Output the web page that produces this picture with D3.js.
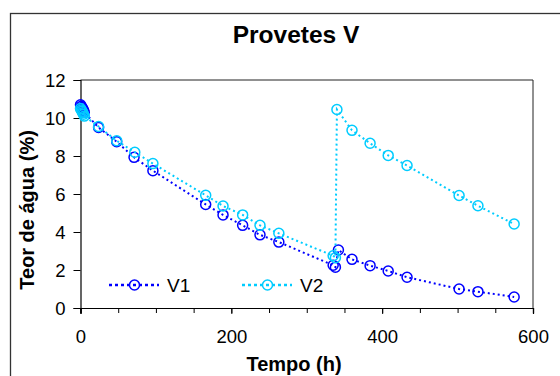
<!DOCTYPE html>
<html><head><meta charset="utf-8">
<script src="https://cdn.jsdelivr.net/npm/d3@7"></script>
<style>body{margin:0;background:#fff;} svg{display:block;font-family:"Liberation Sans",Arial,sans-serif;}</style>
</head><body>
<script>
const title = "Provetes V";
const xLabel = "Tempo (h)";
const yLabel = "Teor de água (%)";
const xTicks = [0, 200, 400, 600];
const xMinorTicks = [0,50,100,150,200,250,300,350,400,450,500,550,600];
const yTicks = [0, 2, 4, 6, 8, 10, 12];

const v1Time  = [0, 1, 2, 3, 4, 5, 24, 48, 71, 96, 166, 189, 215, 238, 263, 335, 338, 342, 360, 384, 408, 433, 502, 527, 575];
const v1Value = [10.7, 10.62, 10.55, 10.48, 10.4, 10.3, 9.5, 8.75, 7.93, 7.23, 5.45, 4.9, 4.35, 3.85, 3.47, 2.25, 2.15, 3.05, 2.56, 2.23, 1.95, 1.62, 1.0, 0.86, 0.58];
const v2Time  = [0, 1, 2, 3, 4, 5, 24, 48, 72, 96, 166, 189, 215, 238, 263, 335, 338, 340, 360, 384, 408, 433, 502, 527, 575];
const v2Value = [10.5, 10.42, 10.35, 10.28, 10.2, 10.1, 9.55, 8.8, 8.2, 7.6, 5.93, 5.37, 4.9, 4.35, 3.93, 2.75, 2.65, 10.45, 9.35, 8.67, 8.03, 7.5, 5.92, 5.38, 4.42];

const seriesNames = ["V1", "V2"];
const seriesColors = ["#0000ff", "#00ccff"];

const W = 560, H = 376;
const svg = d3.select("body").append("svg").attr("width", W).attr("height", H);

// outer chart border
svg.append("rect").attr("x", 10.5).attr("y", 13.5).attr("width", 600).attr("height", 400)
  .attr("fill", "none").attr("stroke", "#333").attr("stroke-width", 1.3);

const x = d3.scaleLinear().domain([0, 600]).range([80.5, 533]);
const y = d3.scaleLinear().domain([0, 12]).range([308, 80]);

// plot frame (top and right)
svg.append("path").attr("d", `M${x(0)},${y(12)}H${x(600)}V${y(0)}`)
  .attr("fill", "none").attr("stroke", "#222").attr("stroke-width", 1);

// axes
const xAxisMinor = d3.axisBottom(x).tickValues(xMinorTicks).tickSize(5).tickFormat("");
const gxm = svg.append("g").attr("transform", `translate(0,${y(0)})`).call(xAxisMinor);
const xAxis = d3.axisBottom(x).tickValues(xTicks).tickSize(6).tickPadding(16).tickFormat(d3.format("d"));
const gx = svg.append("g").attr("transform", `translate(0,${y(0)})`).call(xAxis);
const yAxis = d3.axisLeft(y).tickValues(yTicks).tickSize(7).tickPadding(8).tickFormat(d3.format("d"));
const gy = svg.append("g").attr("transform", `translate(${x(0)},0)`).call(yAxis);
[gx, gy, gxm].forEach(g => {
  g.select(".domain").attr("stroke", "#000").attr("stroke-width", 1.2);
  g.selectAll(".tick line").attr("stroke", "#000").attr("stroke-width", 1);
  g.selectAll("text").attr("font-size", "18.5px").attr("fill", "#000").attr("font-family", "Liberation Sans, Arial, sans-serif");
});
gx.selectAll("text").attr("dy", "0.71em");
gy.selectAll("text").attr("dy", "0.35em");

// titles
svg.append("text").attr("x", 296).attr("y", 43).attr("text-anchor", "middle")
  .attr("font-size", "24.5px").attr("font-weight", "bold").text(title);
svg.append("text").attr("x", 294).attr("y", 371).attr("text-anchor", "middle")
  .attr("font-size", "20px").attr("font-weight", "bold").text(xLabel);
svg.append("text").attr("transform", "translate(34,210) rotate(-90)").attr("text-anchor", "middle")
  .attr("font-size", "20px").attr("font-weight", "bold").text(yLabel);

// series
const data = [
  v1Time.map((t, i) => ({t, v: v1Value[i]})),
  v2Time.map((t, i) => ({t, v: v2Value[i]}))
];
const line = d3.line().x(d => x(d.t)).y(d => y(d.v));
data.forEach((ser, k) => {
  const g = svg.append("g");
  g.append("path").datum(ser).attr("d", line).attr("fill", "none")
    .attr("stroke", seriesColors[k]).attr("stroke-width", 2).attr("stroke-dasharray", "2,3");
  g.selectAll("circle").data(ser).join("circle")
    .attr("cx", d => x(d.t)).attr("cy", d => y(d.v)).attr("r", 5)
    .attr("fill", "none").attr("stroke", seriesColors[k]).attr("stroke-width", 1.5);
});

// legend
const legendX = [109, 242];
seriesNames.forEach((name, k) => {
  const g = svg.append("g").attr("transform", `translate(${legendX[k]},285)`);
  g.append("line").attr("x1", 0).attr("x2", 50).attr("y1", 0).attr("y2", 0)
    .attr("stroke", seriesColors[k]).attr("stroke-width", 2.5).attr("stroke-dasharray", "3,3");
  g.append("circle").attr("cx", 25.5).attr("cy", 0).attr("r", 5)
    .attr("fill", "none").attr("stroke", seriesColors[k]).attr("stroke-width", 1.5);
  g.append("text").attr("x", 58).attr("y", 7).attr("font-size", "19px").text(name);
});
</script>
</body></html>
